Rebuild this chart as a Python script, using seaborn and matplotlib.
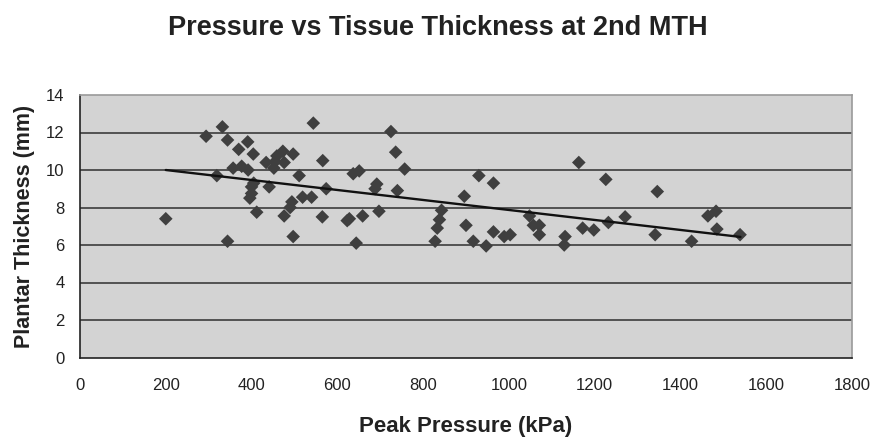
import matplotlib
matplotlib.use("Agg")
import matplotlib.pyplot as plt
import seaborn as sns
import pandas as pd

# Data
pressure = [200, 294, 319, 332, 344, 344, 357, 370, 377, 391, 392, 396, 400, 400, 405,
            404, 412, 434, 441, 452, 455, 459, 473, 476, 476, 490, 494, 497, 497,
            511, 519, 540, 544, 565, 566, 574, 623, 628, 637, 644, 651, 659, 688,
            692, 697, 725, 736, 740, 757, 828, 833, 838, 843, 896, 900, 917, 930,
            947, 964, 964, 989, 1003, 1048, 1057, 1071, 1071, 1129, 1131, 1163,
            1172, 1198, 1226, 1232, 1271, 1341, 1346, 1426, 1464, 1483, 1485, 1539]
thickness = [7.4, 11.8, 9.7, 12.3, 11.6, 6.2, 10.1, 11.1, 10.2, 11.5, 10.0, 8.5, 9.1,
             8.75, 9.3, 10.85, 7.75, 10.4, 9.1, 10.1, 10.45, 10.75, 11.0, 10.4, 7.55,
             8.0, 8.3, 10.85, 6.45, 9.7, 8.55, 8.55, 12.5, 7.5, 10.5, 9.0, 7.3, 7.4,
             9.8, 6.1, 9.95, 7.55, 9.0, 9.25, 7.8, 12.05, 10.95, 8.9, 10.05, 6.2,
             6.9, 7.35, 7.85, 8.6, 7.05, 6.2, 9.7, 5.95, 9.3, 6.7, 6.45, 6.55, 7.55,
             7.05, 7.05, 6.55, 6.0, 6.45, 10.4, 6.9, 6.8, 9.5, 7.2, 7.5, 6.55, 8.85,
             6.2, 7.55, 7.8, 6.85, 6.55]
trend_x = [200, 1540]
trend_y = [10.0, 6.43]

x_ticks = [0, 200, 400, 600, 800, 1000, 1200, 1400, 1600, 1800]
y_ticks = [0, 2, 4, 6, 8, 10, 12, 14]

title = "Pressure vs Tissue Thickness at 2nd MTH"
xlabel = "Peak Pressure (kPa)"
ylabel = "Plantar Thickness (mm)"

sns.set_style("white")
plt.rcParams['font.family'] = ['Liberation Sans', 'DejaVu Sans']

df = pd.DataFrame({"pressure": pressure, "thickness": thickness})
trend = pd.DataFrame({"x": trend_x, "y": trend_y})

fig = plt.figure(figsize=(8.76, 4.37), dpi=100)
ax = fig.add_axes([80 / 876, 1 - 357.5 / 437, 772 / 876, 262.5 / 437])
ax.set_facecolor("#D3D3D3")

for yv in y_ticks[1:-1]:
    ax.axhline(yv, color="#3C3C3C", lw=1.2, zorder=1)

sns.scatterplot(data=df, x="pressure", y="thickness", marker="D", s=48,
                color="#3F3F3F", edgecolor="none", ax=ax, zorder=3)
sns.lineplot(data=trend, x="x", y="y", color="#111111", lw=1.7, ax=ax, zorder=4)

ax.set_xlim(0, 1800)
ax.set_ylim(0, 14)
ax.set_xticks(x_ticks)
ax.set_yticks(y_ticks)
ax.tick_params(axis="both", direction="out", length=5, width=1, color="#222222",
               labelsize=12, labelcolor="#222222")
ax.tick_params(axis="x", pad=10)
ax.tick_params(axis="y", pad=6)
for s in ["left", "bottom"]:
    ax.spines[s].set_color("#222222")
    ax.spines[s].set_linewidth(1.2)
for s in ["top", "right"]:
    ax.spines[s].set_color("#9A9A9A")
    ax.spines[s].set_linewidth(1.2)

ax.set_xlabel(xlabel, fontsize=16, fontweight="bold", labelpad=16, color="#222222")
ax.set_ylabel(ylabel, fontsize=15.5, fontweight="bold", labelpad=8, color="#222222")
fig.text(0.5, 1 - 28 / 437, title, ha="center", va="center", fontsize=19.5,
         fontweight="bold", color="#222222")

fig.savefig("out.png", dpi=100)
